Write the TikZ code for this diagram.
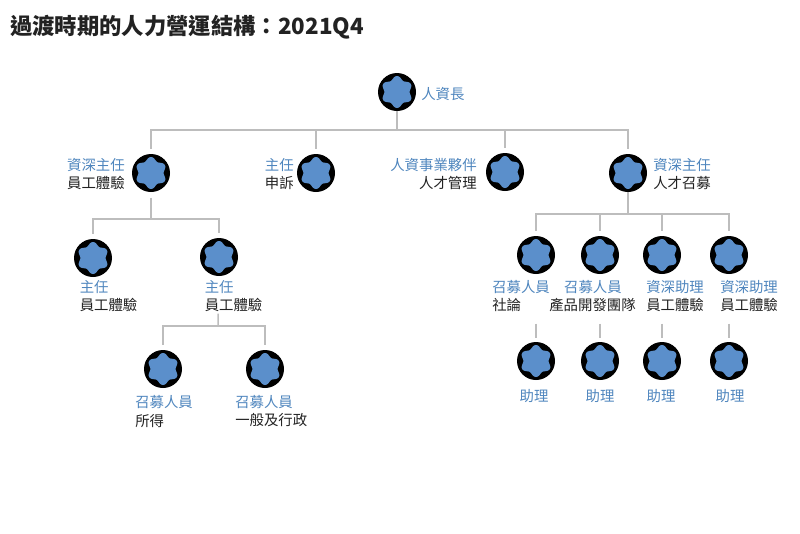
\documentclass[tikz,border=0pt]{standalone}
\usepackage{fontspec}
\setmainfont{Noto Sans CJK TC}
\definecolor{hrblue}{HTML}{5B8FCB}
\definecolor{hrtext}{HTML}{4F86BE}
\definecolor{hrline}{HTML}{BDBDBD}
\definecolor{hrdark}{HTML}{222222}
\tikzset{
  badge/.style={circle,fill=black,inner sep=0pt,minimum size=28.5pt,
    path picture={\fill[hrblue,shift={(path picture bounding box.center)}]
      plot[domain=0:360,samples=121,variable=\t]
      ({(14.3+1.7*cos(6*(\t-90)))*cos(\t)},{(14.3+1.7*cos(6*(\t-90)))*sin(\t)}) -- cycle;}},
  lbl/.style={inner sep=0pt,text=hrdark,font=\fontsize{10.8}{13.6}\selectfont},
  lblL/.style={lbl,anchor=west,align=left},
  lblR/.style={lbl,anchor=east,align=right},
  lblC/.style={lbl,anchor=center,align=center,text=hrtext},
  ttl/.style={inner sep=0pt,anchor=west,text=hrdark,font=\fontsize{16.75}{20}\selectfont\bfseries},
  conn/.style={draw=hrline,line width=1.1pt},
  drop/.style={conn,shorten >=3.5pt},
}
\newcommand{\bl}[1]{\textcolor{hrtext}{#1}}
\begin{document}
\begin{tikzpicture}[x=0.75pt,y=-0.75pt]
\useasboundingbox[fill=white] (0,0) rectangle (800,533);
\node[ttl] (title) at (10,27) {過渡時期的人力營運結構：2021Q4};
% nodes
\node[badge] (root) at (397,92) {};
\node[badge] (a1) at (151,173) {};
\node[badge] (a2) at (316,173) {};
\node[badge] (a3) at (505,172) {};
\node[badge] (a4) at (628,173) {};
\node[badge] (b1) at (93,258) {};
\node[badge] (b2) at (219,257) {};
\node[badge] (c1) at (163,369) {};
\node[badge] (c2) at (265,369) {};
\node[badge] (d1) at (536,255) {};
\node[badge] (d2) at (600,255) {};
\node[badge] (d3) at (662,255) {};
\node[badge] (d4) at (729,255) {};
\node[badge] (e1) at (536,361) {};
\node[badge] (e2) at (600,361) {};
\node[badge] (e3) at (662,361) {};
\node[badge] (e4) at (729,361) {};
% labels
\node[lbl,anchor=west,text=hrtext] (lroot) at (421,94) {人資長};
\node[lblR] (la1) at (125,174) {\bl{資深主任}\\員工體驗};
\node[lblR] (la2) at (294,174) {\bl{主任}\\申訴};
\node[lblR] (la3) at (477,174) {\bl{人資事業夥伴}\\人才管理};
\node[lblL] (la4) at (653,174) {\bl{資深主任}\\人才召募};
\node[lblL] (lb1) at (79.500,296) {\bl{主任}\\員工體驗};
\node[lblL] (lb2) at (204.500,296) {\bl{主任}\\員工體驗};
\node[lblL] (lc1) at (135,411.500) {\bl{召募人員}\\所得};
\node[lblL] (lc2) at (235,411.500) {\bl{召募人員}\\一般及行政};
\node[lblL] (ld1) at (492,296) {\bl{召募人員}\\社論};
\node[lblR] (ld2) at (636,296) {\bl{召募人員}\hspace*{10.5pt}\\產品開發團隊};
\node[lblL] (ld3) at (646,296) {\bl{資深助理}\\員工體驗};
\node[lblL] (ld4) at (720,296) {\bl{資深助理}\\員工體驗};
\node[lblC] (le1) at (534,396) {助理};
\node[lblC] (le2) at (600,396) {助理};
\node[lblC] (le3) at (661,396) {助理};
\node[lblC] (le4) at (730,396) {助理};
% junctions
\coordinate (jr) at (397,130);
\coordinate (ja) at (151,219);
\coordinate (jb) at (218,326);
\coordinate (jd) at (628,214);
% connectors
\draw[conn] (root) -- (jr);
\draw[drop] (jr) -| (a1);
\draw[drop] (jr) -| (a2);
\draw[drop] (jr) -| (a3);
\draw[drop] (jr) -| (a4);
\draw[conn,shorten <=4pt] (a1) -- (ja);
\draw[drop] (ja) -| (b1);
\draw[drop] (ja) -| (b2);
\draw[conn,shorten <=28pt] (b2) -- (jb);
\draw[drop] (jb) -| (c1);
\draw[drop] (jb) -| (c2);
\draw[conn] (a4) -- (jd);
\draw[drop] (jd) -| (d1);
\draw[drop] (jd) -| (d2);
\draw[drop] (jd) -| (d3);
\draw[drop] (jd) -| (d4);
\draw[conn,shorten <=37pt,shorten >=3pt] (d1) -- (e1);
\draw[conn,shorten <=37pt,shorten >=3pt] (d2) -- (e2);
\draw[conn,shorten <=37pt,shorten >=3pt] (d3) -- (e3);
\draw[conn,shorten <=37pt,shorten >=3pt] (d4) -- (e4);
\end{tikzpicture}
\end{document}
